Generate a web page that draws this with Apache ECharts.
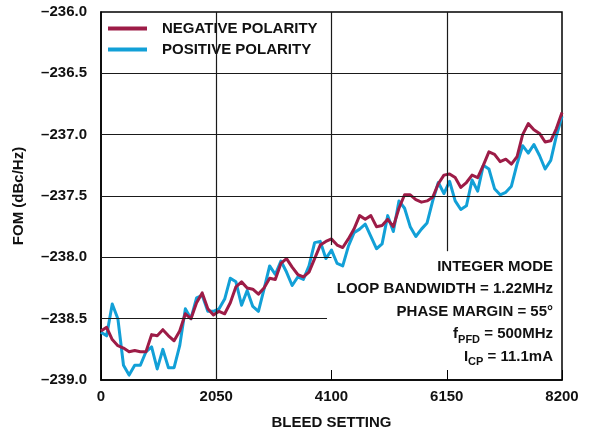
<!DOCTYPE html>
<html>
<head>
<meta charset="utf-8">
<script src="https://cdn.jsdelivr.net/npm/echarts@6/dist/echarts.min.js"></script>
<style>
html,body{margin:0;padding:0;background:#fff;}
#chart{width:594px;height:435px;}
</style>
</head>
<body>
<div id="chart"></div>
<script>
var bleed = [0,100,200,300,400,500,600,700,800,900,1000,1100,1200,1300,1400,1500,1600,1700,1800,1900,
2000,2100,2200,2300,2400,2500,2600,2700,2800,2900,3000,3100,3200,3300,3400,3500,3600,3700,3800,3900,
4000,4100,4200,4300,4400,4500,4600,4700,4800,4900,5000,5100,5200,5300,5400,5500,5600,5700,5800,5900,
6000,6100,6200,6300,6400,6500,6600,6700,6800,6900,7000,7100,7200,7300,7400,7500,7600,7700,7800,7900,
8000,8100,8200];

var negativePolarity = [-238.60,-238.57,-238.67,-238.72,-238.74,-238.77,-238.76,-238.77,-238.77,-238.63,
-238.64,-238.59,-238.64,-238.68,-238.60,-238.46,-238.50,-238.37,-238.29,-238.42,
-238.47,-238.44,-238.46,-238.37,-238.24,-238.20,-238.25,-238.26,-238.30,-238.25,
-238.17,-238.18,-238.05,-238.01,-238.08,-238.14,-238.16,-238.12,-238.01,-237.90,
-237.87,-237.85,-237.90,-237.92,-237.85,-237.77,-237.66,-237.69,-237.66,-237.75,
-237.74,-237.69,-237.75,-237.60,-237.49,-237.49,-237.53,-237.55,-237.54,-237.51,
-237.40,-237.33,-237.32,-237.35,-237.43,-237.39,-237.33,-237.35,-237.25,-237.14,
-237.16,-237.22,-237.20,-237.24,-237.18,-237.00,-236.91,-236.96,-236.99,-237.06,
-237.05,-236.95,-236.82];

var positivePolarity = [-238.61,-238.64,-238.38,-238.50,-238.88,-238.96,-238.88,-238.88,-238.77,-238.73,
-238.91,-238.75,-238.90,-238.90,-238.72,-238.42,-238.50,-238.33,-238.31,-238.44,
-238.44,-238.42,-238.34,-238.17,-238.20,-238.39,-238.27,-238.40,-238.44,-238.26,
-238.07,-238.14,-238.03,-238.12,-238.23,-238.16,-238.18,-238.07,-237.88,-237.87,
-238.01,-237.94,-238.05,-238.07,-237.91,-237.80,-237.77,-237.73,-237.83,-237.93,
-237.89,-237.66,-237.79,-237.54,-237.60,-237.75,-237.83,-237.77,-237.72,-237.54,
-237.39,-237.48,-237.38,-237.54,-237.61,-237.58,-237.37,-237.46,-237.25,-237.28,
-237.44,-237.49,-237.47,-237.42,-237.24,-237.09,-237.15,-237.08,-237.17,-237.28,
-237.21,-237.01,-236.85];

var seriesNames = ['NEGATIVE POLARITY', 'POSITIVE POLARITY'];
var xTicks = [0, 2050, 4100, 6150, 8200];
var yTicks = [-239.0, -238.5, -238.0, -237.5, -237.0, -236.5, -236.0];

// partial grid lines as drawn in the reference: [x1, y1, x2, y2]
var gridSegments = [
  [2050, -239, 2050, -236],
  [4100, -237.9, 4100, -236],
  [6150, -237.95, 6150, -236],
  [0, -236.5, 8200, -236.5],
  [0, -237.0, 8200, -237.0],
  [0, -237.5, 8200, -237.5],
  [0, -238.0, 4100, -238.0],
  [0, -238.5, 4020, -238.5]
];

var FONT = '"Liberation Sans", Arial, Helvetica, sans-serif';

function pairs(xs, ys) { return xs.map(function (x, i) { return [x, ys[i]]; }); }

var chart = echarts.init(document.getElementById('chart'), null, {renderer: 'canvas'});
chart.setOption({
  animation: false,
  backgroundColor: '#fff',
  grid: {left: 101, right: 32, top: 12, bottom: 54, show: true, borderColor: '#000', borderWidth: 1.5, backgroundColor: 'transparent'},
  legend: {
    data: seriesNames,
    orient: 'vertical',
    left: 108, top: 18, padding: 0,
    itemWidth: 39, itemHeight: 4, itemGap: 0,
    icon: 'rect',
    textStyle: {fontFamily: FONT, fontWeight: 'bold', fontSize: 15, color: '#111', lineHeight: 21, padding: [0, 0, 0, 10]}
  },
  xAxis: {
    type: 'value', min: 0, max: 8200, interval: 2050,
    name: 'BLEED SETTING', nameLocation: 'middle', nameGap: 35,
    nameTextStyle: {fontFamily: FONT, fontWeight: 'bold', fontSize: 15, color: '#111'},
    axisLine: {show: true, lineStyle: {color: '#000', width: 1.5}},
    axisTick: {show: true, inside: true, length: 10, lineStyle: {color: '#000', width: 1}},
    axisLabel: {fontFamily: FONT, fontWeight: 'bold', fontSize: 15, color: '#111', margin: 9,
      formatter: function (v) { return xTicks.indexOf(v) >= 0 ? String(v) : ''; }},
    splitLine: {show: false}
  },
  yAxis: {
    type: 'value', min: -239, max: -236, interval: 0.5,
    name: 'FOM (dBc/Hz)', nameLocation: 'middle', nameGap: 75, nameRotate: 90,
    nameTextStyle: {fontFamily: FONT, fontWeight: 'bold', fontSize: 15, color: '#111'},
    axisLine: {show: true, lineStyle: {color: '#000', width: 1.5}},
    axisTick: {show: false},
    axisLabel: {fontFamily: FONT, fontWeight: 'bold', fontSize: 15, color: '#111', margin: 14,
      formatter: function (v) {
        var t = yTicks.filter(function (k) { return Math.abs(k - v) < 1e-6; });
        return t.length ? t[0].toFixed(1).replace('-', '\u2013') : '';
      }},
    splitLine: {show: false}
  },
  series: [
    {
      type: 'line', name: 'grid', data: [], z: 1, silent: true,
      markLine: {
        silent: true, symbol: ['none', 'none'], animation: false,
        label: {show: false},
        lineStyle: {color: '#1a1a1a', width: 1.2, type: 'solid'},
        emphasis: {disabled: true},
        data: gridSegments.map(function (s) { return [{coord: [s[0], s[1]]}, {coord: [s[2], s[3]]}]; })
      }
    },
    {
      type: 'line', name: seriesNames[1], data: pairs(bleed, positivePolarity), z: 3,
      showSymbol: false, symbol: 'none',
      lineStyle: {color: '#12a0d7', width: 3, join: 'round'}, itemStyle: {color: '#12a0d7'}
    },
    {
      type: 'line', name: seriesNames[0], data: pairs(bleed, negativePolarity), z: 4,
      showSymbol: false, symbol: 'none',
      lineStyle: {color: '#9d1c47', width: 3, join: 'round'}, itemStyle: {color: '#9d1c47'}
    }
  ],
  graphic: [{
    type: 'text', right: 41, top: 259, z: 10,
    style: {
      text: '{b|INTEGER MODE}\n{b|LOOP BANDWIDTH = 1.22MHz}\n{b|PHASE MARGIN = 55\u00b0}\n{b|f}{s|PFD}{b| = 500MHz}\n{b|I}{s|CP}{b| = 11.1mA}',
      align: 'right',
      fill: '#111',
      font: 'bold 15px ' + FONT,
      rich: {
        b: {fontFamily: FONT, fontWeight: 'bold', fontSize: 15, lineHeight: 22.5, fill: '#111', color: '#111', align: 'right'},
        s: {fontFamily: FONT, fontWeight: 'bold', fontSize: 11, lineHeight: 12, verticalAlign: 'bottom', fill: '#111', color: '#111', align: 'right'}
      }
    }
  }]
});
</script>
</body>
</html>
